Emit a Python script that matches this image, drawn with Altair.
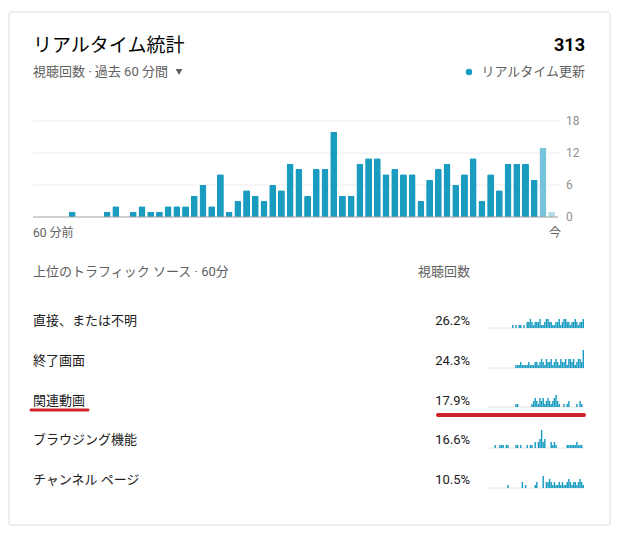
import altair as alt
import pandas as pd

FONT = "Roboto, 'Noto Sans CJK JP', sans-serif"

# ---- main chart data (views per minute, last 60 minutes) ----
minutes = list(range(60))
views = [0, 0, 0, 0, 1, 0, 0, 0, 1, 2,
         0, 1, 2, 1, 1, 2, 2, 2, 4, 6,
         2, 8, 1, 3, 5, 4, 3, 6, 5, 10,
         9, 4, 9, 9, 16, 4, 4, 10, 11, 11,
         8, 9, 8, 8, 3, 7, 9, 10, 6, 8,
         11, 3, 8, 5, 10, 10, 10, 7, 13, 1]
bar_colors = ["#1a9cc0"] * 58 + ["#78c4da", "#b4dde9"]
y_ticks = [0, 6, 12, 18]
y_tick_labels = ["0", "6", "12", "18"]

# ---- traffic sources ----
source_names = ["直接、または不明", "終了画面", "関連動画", "ブラウジング機能", "チャンネル ページ"]
source_shares = ["26.2%", "24.3%", "17.9%", "16.6%", "10.5%"]

spark_direct = [0] * 15 + [1, 0, 1, 0, 1, 1, 0, 1, 0, 2, 2, 3, 2, 1, 2, 2, 2, 3, 1, 1,
                           2, 3, 3, 2, 2, 1, 1, 2, 2, 3, 1, 2, 3, 3, 2, 2, 1, 2, 2, 3,
                           2, 1, 2, 2, 3]
spark_end = [0] * 17 + [1, 1, 1, 2, 1, 1, 1, 1, 2, 1, 1, 1, 2, 2, 1, 2, 3, 2, 1, 3,
                        2, 2, 3, 1, 2, 3, 2, 1, 3, 2, 2, 3, 1, 3, 3, 2, 3, 1, 2, 3,
                        3, 2, 6]
spark_related = [0] * 17 + [1, 1, 0, 0, 0, 0, 0, 0, 0, 0, 1, 2, 3, 2, 1, 3, 2, 3, 1, 2,
                            3, 2, 1, 2, 3, 4, 2, 1, 0, 0, 1, 0, 1, 2, 0, 0, 0, 0, 1, 0,
                            2, 1, 0]
spark_browse = [0, 0, 0, 0, 1, 0, 0, 1, 1, 1, 0, 1, 1, 0, 0, 0, 0, 1, 1, 0,
                1, 0, 0, 0, 1, 0, 1, 1, 0, 2, 0, 2, 3, 6, 2, 3, 0, 0, 0, 2,
                1, 2, 1, 0, 0, 0, 0, 0, 0, 1, 1, 1, 1, 1, 1, 2, 1, 1, 1, 0]
spark_channel = [0] * 12 + [1, 0, 0, 0, 0, 0, 0, 0, 0, 2, 0, 1, 0, 0, 0, 0, 0, 1, 2, 0,
                            0, 0, 4, 0, 2, 2, 3, 2, 1, 2, 1, 1, 2, 1, 2, 1, 1, 2, 3, 2,
                            1, 2, 2, 1, 2, 3, 2, 1]
sparks = [spark_direct, spark_end, spark_related, spark_browse, spark_channel]

# ---- layout constants (pixels in chart space) ----
W, H = 603, 519
PLOT_L, PLOT_R = 25, 548
BASE_Y, TOP_Y = 209, 113
ROW_Y = [313, 352, 392, 432, 472]
SPARK_BASE = [320, 360, 399, 440, 480]
SPARK_L, SPARK_R = 480, 576

one = pd.DataFrame({"k": [0]})


def label(txt, x, y, size=13, color="#030303", align="left", weight="normal"):
    return alt.Chart(one).mark_text(
        text=txt, align=align, baseline="middle", fontSize=size, color=color,
        font=FONT, fontWeight=weight
    ).encode(x=alt.value(x), y=alt.value(y))


layers = []

# card
layers.append(alt.Chart(one).mark_rect(
    fill="white", stroke="#dcdcdc", strokeWidth=1, cornerRadius=2
).encode(x=alt.value(1), x2=alt.value(602), y=alt.value(4), y2=alt.value(517)))

# header
layers.append(label("リアルタイム統計", 25, 38, size=19, color="#030303"))
layers.append(label("313", 577, 38, size=18, color="#030303", align="right", weight="bold"))
layers.append(label("視聴回数 · 過去 60 分間", 25, 64, size=13, color="#606060"))
layers.append(alt.Chart(one).mark_point(
    shape="triangle-down", filled=True, size=45, color="#606060", opacity=1
).encode(x=alt.value(171), y=alt.value(64)))
layers.append(alt.Chart(one).mark_circle(size=42, color="#1a9cc0", opacity=1)
              .encode(x=alt.value(461), y=alt.value(64)))
layers.append(label("リアルタイム更新", 577, 64, size=13, color="#606060", align="right"))

# main chart
yscale = alt.Scale(domain=[0, 18], range=[BASE_Y, TOP_Y])
ticks_df = pd.DataFrame({"t": y_ticks, "lab": y_tick_labels})
layers.append(alt.Chart(ticks_df[ticks_df.t > 0]).mark_rule(color="#ececec", strokeWidth=1).encode(
    y=alt.Y("t:Q", scale=yscale, axis=None), x=alt.value(PLOT_L), x2=alt.value(552)))

bars_df = pd.DataFrame({"m": minutes, "v": views, "c": bar_colors})
layers.append(alt.Chart(bars_df).mark_bar(cornerRadiusTopLeft=1.5, cornerRadiusTopRight=1.5).encode(
    x=alt.X("m:O", scale=alt.Scale(range=[PLOT_L, PLOT_R], paddingInner=0.2, paddingOuter=0.1), axis=None),
    y=alt.Y("v:Q", scale=yscale, axis=None),
    color=alt.Color("c:N", scale=None)))

layers.append(alt.Chart(ticks_df[ticks_df.t == 0]).mark_rule(color="#a0a0a0", strokeWidth=1).encode(
    y=alt.Y("t:Q", scale=yscale, axis=None), x=alt.value(PLOT_L), x2=alt.value(550)))

layers.append(alt.Chart(ticks_df).mark_text(
    align="left", baseline="middle", fontSize=12, color="#909090", font=FONT
).encode(y=alt.Y("t:Q", scale=yscale, axis=None), x=alt.value(558), text="lab:N"))

layers.append(label("60 分前", 25, 225, size=12, color="#606060"))
layers.append(label("今", 547, 225, size=12, color="#606060", align="center"))

# traffic sources section
layers.append(label("上位のトラフィック ソース · 60分", 25, 264, size=13, color="#606060"))
layers.append(label("視聴回数", 462, 264, size=13, color="#606060", align="right"))

src_df = pd.DataFrame({"name": source_names, "share": source_shares})
rowscale = alt.Scale(type="point", domain=source_names, range=[ROW_Y[0], ROW_Y[-1]], padding=0)
layers.append(alt.Chart(src_df).mark_text(
    align="left", baseline="middle", fontSize=13, color="#202020", font=FONT
).encode(y=alt.Y("name:N", scale=rowscale, axis=None), x=alt.value(25), text="name:N"))
layers.append(alt.Chart(src_df).mark_text(
    align="right", baseline="middle", fontSize=13, color="#202020", font=FONT
).encode(y=alt.Y("name:N", scale=rowscale, axis=None), x=alt.value(462), text="share:N"))

# sparklines
for vals, base in zip(sparks, SPARK_BASE):
    layers.append(alt.Chart(one).mark_rule(color="#e2e2e2", strokeWidth=1).encode(
        x=alt.value(SPARK_L), x2=alt.value(SPARK_R), y=alt.value(base)))
    sdf = pd.DataFrame({"m": minutes, "v": vals})
    layers.append(alt.Chart(sdf).mark_bar(color="#1a9cc0").encode(
        x=alt.X("m:O", scale=alt.Scale(range=[SPARK_L, SPARK_R], paddingInner=0.1, paddingOuter=0), axis=None),
        y=alt.Y("v:Q", scale=alt.Scale(domain=[0, 6], range=[base, base - 18]), axis=None)))

# red hand-drawn highlight
layers.append(alt.Chart(one).mark_rule(color="#d0222a", strokeWidth=3, strokeCap="round").encode(
    x=alt.value(23), x2=alt.value(80), y=alt.value(402)))
layers.append(alt.Chart(one).mark_rule(color="#d0222a", strokeWidth=4, strokeCap="round").encode(
    x=alt.value(430), x2=alt.value(576), y=alt.value(407)))

chart = alt.layer(*layers).resolve_scale(x="independent", y="independent").properties(
    width=W, height=H, autosize="none", padding=0
).configure_view(stroke=None)

chart.save("out.html", embed_options={"renderer": "svg", "actions": False})
